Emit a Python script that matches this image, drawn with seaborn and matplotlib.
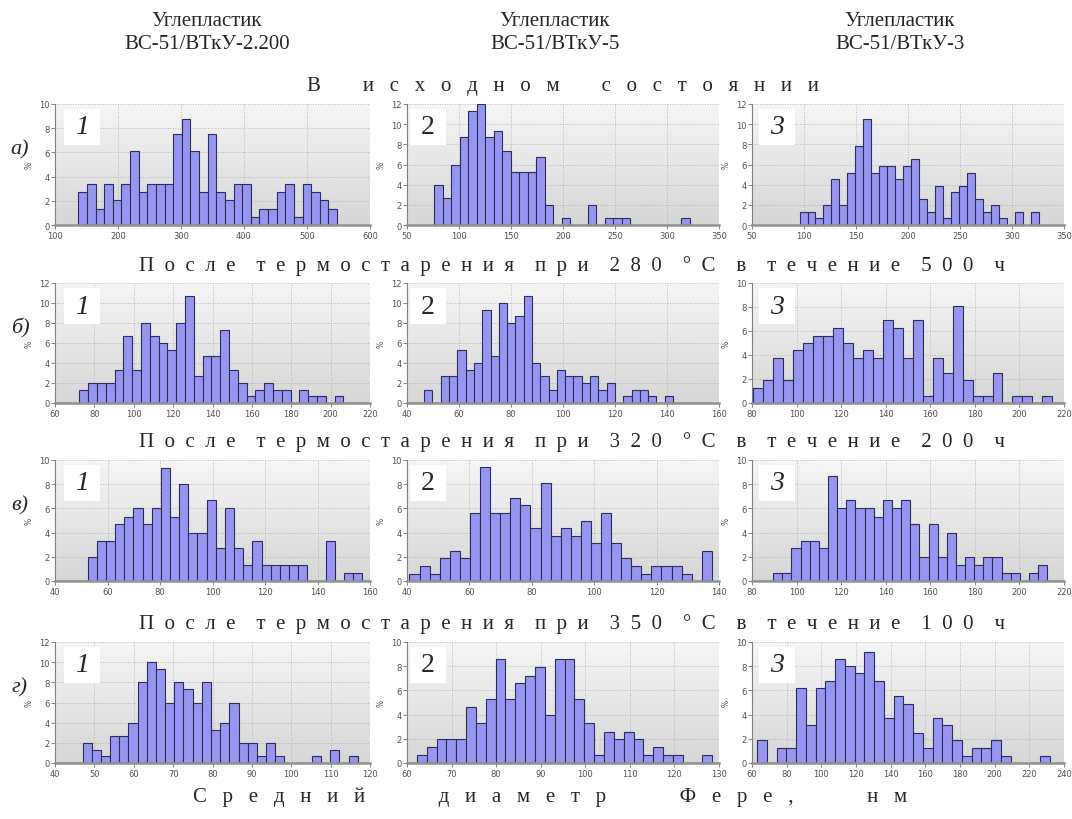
import numpy as np
import pandas as pd
import matplotlib
matplotlib.use("Agg")
import matplotlib.pyplot as plt
from matplotlib.colors import LinearSegmentedColormap
from matplotlib.patches import Rectangle
import seaborn as sns

# ---------------- text ----------------
col_titles = ["Углепластик\nВС-51/ВТкУ-2.200", "Углепластик\nВС-51/ВТкУ-5", "Углепластик\nВС-51/ВТкУ-3"]
row_titles = ["В исходном состоянии",
              "После термостарения при 280 °С в течение 500 ч",
              "После термостарения при 320 °С в течение 200 ч",
              "После термостарения при 350 °С в течение 100 ч"]
row_letters = ["а)", "б)", "в)", "г)"]
x_label = "Средний диаметр Фере, нм"
y_label = "%"
panel_numbers = ["1", "2", "3"]

# ---------------- data (30 bins per histogram, % of particles) ----------------
h_a1 = [2.7, 3.4, 1.3, 3.4, 2.1, 3.4, 6.1, 2.7, 3.4, 3.4, 3.4, 7.5, 8.8, 6.1, 2.7,
        7.5, 2.7, 2.1, 3.4, 3.4, 0.7, 1.3, 1.3, 2.7, 3.4, 0.7, 3.4, 2.7, 2.1, 1.3]
h_a2 = [4.0, 2.7, 6.0, 8.7, 11.3, 12.0, 8.7, 9.3, 7.3, 5.3, 5.3, 5.3, 6.7, 2.0, 0,
        0.67, 0, 0, 2.0, 0, 0.67, 0.67, 0.67, 0, 0, 0, 0, 0, 0, 0.67]
h_a3 = [1.3, 1.3, 0.65, 1.95, 4.6, 1.95, 5.2, 7.8, 10.5, 5.2, 5.9, 5.9, 4.6, 5.9, 6.5,
        2.6, 1.3, 3.9, 0.65, 3.3, 3.9, 5.2, 2.6, 1.3, 1.95, 0.65, 0, 1.3, 0, 1.3]
h_b1 = [1.3, 2.0, 2.0, 2.0, 3.3, 6.7, 3.3, 8.0, 6.7, 6.0, 5.3, 8.0, 10.7, 2.7, 4.7,
        4.7, 7.3, 3.3, 2.0, 0.67, 1.3, 2.0, 1.3, 1.3, 0, 1.3, 0.67, 0.67, 0, 0.67]
h_b2 = [1.3, 0, 2.7, 2.7, 5.3, 3.3, 4.0, 9.3, 4.7, 10.0, 8.0, 8.7, 10.7, 4.0, 2.7,
        1.3, 3.3, 2.7, 2.7, 2.0, 2.7, 1.3, 2.0, 0, 0.67, 1.3, 1.3, 0.67, 0, 0.67]
h_b3 = [1.25, 1.9, 3.75, 1.9, 4.4, 5.0, 5.6, 5.6, 6.25, 5.0, 3.75, 4.4, 3.75, 6.9, 6.25,
        3.75, 6.9, 0.6, 3.75, 2.5, 8.1, 1.9, 0.6, 0.6, 2.5, 0, 0.6, 0.6, 0, 0.6]
h_c1 = [2.0, 3.3, 3.3, 4.7, 5.3, 6.0, 4.7, 6.0, 9.3, 5.3, 8.0, 4.0, 4.0, 6.7, 2.7,
        6.0, 2.7, 1.3, 3.3, 1.3, 1.3, 1.3, 1.3, 1.3, 0, 0, 3.3, 0, 0.67, 0.67]
h_c2 = [0.6, 1.25, 0.6, 1.9, 2.5, 1.9, 5.6, 9.4, 5.6, 5.6, 6.9, 6.25, 4.4, 8.1, 3.75,
        4.4, 3.75, 5.0, 3.1, 5.6, 3.1, 1.9, 1.25, 0.6, 1.25, 1.25, 1.25, 0.6, 0, 2.5]
h_c3 = [0.67, 0.67, 2.7, 3.3, 3.3, 2.7, 8.7, 6.0, 6.7, 6.0, 6.0, 5.3, 6.7, 6.0, 6.7,
        4.7, 2.0, 4.7, 2.0, 4.0, 1.3, 2.0, 1.3, 2.0, 2.0, 0.67, 0.67, 0, 0.67, 1.3]
h_d1 = [2.0, 1.3, 0.67, 2.7, 2.7, 4.0, 8.0, 10.0, 9.3, 6.0, 8.0, 7.3, 6.0, 8.0, 3.3,
        4.0, 6.0, 2.0, 2.0, 0.67, 2.0, 0.67, 0, 0, 0, 0.67, 0, 1.3, 0, 0.67]
h_d2 = [0.67, 1.3, 2.0, 2.0, 2.0, 4.6, 3.3, 5.3, 8.6, 5.3, 6.6, 7.2, 7.9, 3.95, 8.6,
        8.6, 5.3, 3.3, 0.67, 2.6, 2.0, 2.6, 2.0, 0.67, 1.3, 0.67, 0.67, 0, 0, 0.67]
h_d3 = [1.9, 0, 1.2, 1.2, 6.2, 3.1, 6.2, 6.8, 8.6, 8.0, 7.4, 9.2, 6.8, 3.7, 5.5,
        4.9, 2.5, 1.2, 3.7, 3.1, 1.9, 0.6, 1.2, 1.2, 1.9, 0.6, 0, 0, 0, 0.6]

heights = [h_a1, h_a2, h_a3, h_b1, h_b2, h_b3, h_c1, h_c2, h_c3, h_d1, h_d2, h_d3]
bin_start = [137.1, 76.0, 95.7, 72.4, 46.6, 80.4, 52.4, 40.8, 89.5, 47.0, 62.2, 62.9]   # nm
bin_width = [13.69, 8.2, 7.67, 4.47, 3.19, 4.48, 3.49, 3.23, 4.1, 2.33, 2.21, 5.63]     # nm
x_min = [100, 50, 50, 60, 40, 80, 40, 40, 80, 40, 60, 60]
x_max = [600, 350, 350, 220, 160, 220, 160, 140, 220, 120, 130, 240]
x_step = [100, 50, 50, 20, 20, 20, 20, 20, 20, 10, 10, 20]
y_max = [10, 12, 12, 12, 12, 10, 10, 10, 10, 12, 10, 10]

# ---------------- layout ----------------
W, H = 1072, 820
sns.set_theme(style="white")
plt.rcParams['font.family'] = ['DejaVu Sans']
serif = ['Liberation Serif', 'DejaVu Serif']

fig = plt.figure(figsize=(W / 100, H / 100), dpi=100)
fig.patch.set_facecolor('white')

col_px = [(55, 370), (407, 719), (752, 1064)]
row_px = [(105, 226), (284, 404), (461, 582), (643, 764)]
box_left = [64, 410, 759]

bg_cmap = LinearSegmentedColormap.from_list('bg', ['#d6d6d6', '#f6f6f6'])
grad = np.linspace(0, 1, 256).reshape(-1, 1)

def fx(px):
    return px / W

def fy(py):
    return 1 - py / H

for i in range(12):
    r, c = divmod(i, 3)
    x0, x1 = col_px[c]
    y0, y1 = row_px[r]
    ax = fig.add_axes([fx(x0), fy(y1), fx(x1 - x0), (y1 - y0) / H])
    ax.imshow(grad, extent=[0, 1, 0, 1], transform=ax.transAxes, aspect='auto',
              cmap=bg_cmap, origin='lower', zorder=0)
    edges = [bin_start[i] + bin_width[i] * k for k in range(31)]
    centers = [(edges[k] + edges[k + 1]) / 2 for k in range(30)]
    df = pd.DataFrame({'d': centers, 'w': heights[i]})
    sns.histplot(data=df, x='d', weights='w', bins=edges, ax=ax,
                 color='#9696f0', edgecolor='#2c2c5e', linewidth=0.8, alpha=1.0, zorder=3)
    ax.set_xlim(x_min[i], x_max[i])
    ax.set_ylim(0, y_max[i])
    ax.set_xticks(np.arange(x_min[i], x_max[i] + 0.1, x_step[i]))
    ax.set_yticks(np.arange(0, y_max[i] + 0.1, 2))
    ax.grid(True, color='#a8a8a8', linestyle=(0, (1, 2)), linewidth=0.6, zorder=1)
    ax.set_axisbelow(True)
    for s in ['top', 'right']:
        ax.spines[s].set_visible(False)
    ax.spines['left'].set_color('#808080')
    ax.spines['left'].set_linewidth(0.8)
    ax.spines['bottom'].set_color('#909090')
    ax.spines['bottom'].set_linewidth(1.8)
    ax.spines['bottom'].set_zorder(5)
    ax.tick_params(axis='both', which='major', labelsize=6, labelcolor='#505050',
                   color='#707070', length=3, width=0.6, direction='out', pad=1)
    ax.tick_params(bottom=True, left=True)
    ax.set_xlabel('')
    ax.set_ylabel(y_label, fontsize=5.5, color='#505050', labelpad=4)
    # panel number box
    bl = box_left[c]
    bt = y0 + 5
    fig.patches.append(Rectangle((fx(bl), fy(bt + 36)), 36 / W, 36 / H,
                                 transform=fig.transFigure, facecolor='white',
                                 edgecolor='none', zorder=10))
    fig.text(fx(bl + 18), fy(bt + 18), panel_numbers[c], fontsize=20, family=serif,
             style=('normal' if c == 1 else 'italic'), ha='center', va='center', zorder=11)

def spaced(s, gap, wordgap):
    return (' ' * wordgap).join((' ' * gap).join(list(w)) for w in s.split(' '))

col_cx = [207, 555, 900]
for c in range(3):
    fig.text(fx(col_cx[c]), fy(33), col_titles[c], fontsize=15, family=serif,
             ha='center', va='center', linespacing=1.3)

title_y = [87, 266, 442, 624]
fig.text(fx(563), fy(title_y[0]), spaced(row_titles[0], 3, 8), fontsize=15, family=serif,
         ha='center', va='center')
for r in range(1, 4):
    fig.text(fx(572), fy(title_y[r]), spaced(row_titles[r], 2, 4), fontsize=15, family=serif,
             ha='center', va='center')

for r in range(4):
    y0, y1 = row_px[r]
    fig.text(fx(20), fy((y0 + y1) / 2 - 16), row_letters[r], fontsize=16, family=serif,
             style='italic', ha='center', va='center')

fig.text(fx(550), fy(797), spaced(x_label, 3, 14), fontsize=15, family=serif,
         ha='center', va='center')

fig.savefig('out.png', dpi=100, facecolor='white')
